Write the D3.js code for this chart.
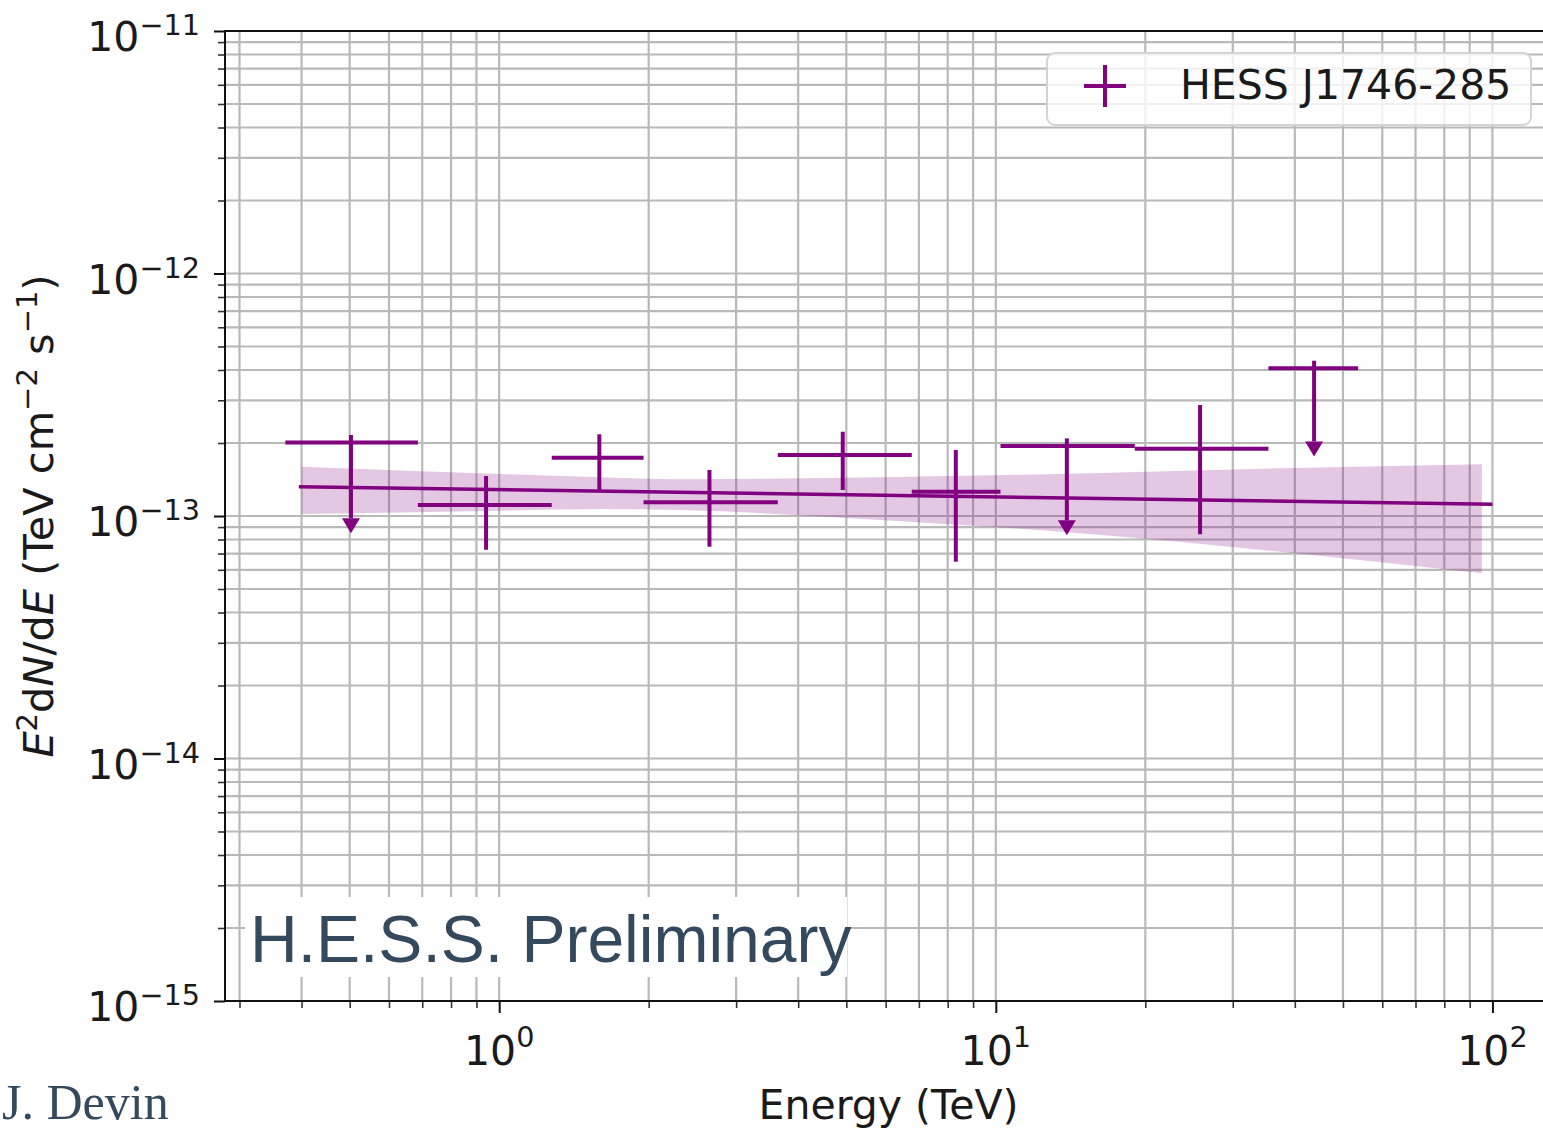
<!DOCTYPE html>
<html>
<head>
<meta charset="utf-8">
<script src="https://cdn.jsdelivr.net/npm/d3@7"></script>
<style>
  html, body { margin: 0; padding: 0; background: #fff; overflow: hidden; }
  svg { display: block; }
  text { font-family: "DejaVu Sans", sans-serif; }
</style>
</head>
<body>
<svg id="chart" width="1543" height="1132"></svg>
<script>
// ---- Spectral points (energy bins in TeV, E^2 dN/dE in TeV cm^-2 s^-1) ----
const binLo  = [0.371, 0.686, 1.276, 1.953, 3.639, 6.773, 10.22, 19.05, 35.39];
const binHi  = [0.686, 1.276, 1.953, 3.639, 6.773, 10.22, 19.05, 35.39, 53.65];
const energy = [0.503, 0.941, 1.591, 2.651, 4.918, 8.307, 13.90, 25.78, 43.74];
const flux   = [2.01e-13, 1.110e-13, 1.739e-13, 1.139e-13, 1.784e-13, 1.260e-13, 1.943e-13, 1.894e-13, 4.064e-13];
const fluxLo = [9.8e-14, 7.26e-14, 1.272e-13, 7.47e-14, 1.280e-13, 6.48e-14, 9.6e-14, 8.40e-14, 2.03e-13];
const fluxHi = [2.158e-13, 1.462e-13, 2.172e-13, 1.548e-13, 2.226e-13, 1.872e-13, 2.09e-13, 2.869e-13, 4.37e-13];
const isUpperLimit = [true, false, false, false, false, false, true, false, true];

// ---- Best-fit power law and its confidence butterfly ----
const modelEnergy = [0.395, 100];
const modelFlux   = [1.320e-13, 1.117e-13];
const bandEnergy = [0.4, 1.0, 1.6, 2.31, 5.85, 14.78, 37.4, 95.2];
const bandUpper  = [1.597e-13, 1.490e-13, 1.444e-13, 1.417e-13, 1.444e-13, 1.497e-13, 1.573e-13, 1.635e-13];
const bandLower  = [1.019e-13, 1.051e-13, 1.069e-13, 1.059e-13, 9.63e-14, 8.49e-14, 7.12e-14, 5.80e-14];

// ---- Axes ----
const xDomain = [0.2805, 131.8];
const yDomain = [1e-15, 1e-11];
const xMajorExp = [0, 1, 2];
const yMajorExp = [-11, -12, -13, -14, -15];

const seriesName = "HESS J1746-285";
const xLabel = "Energy (TeV)";
const watermark = "H.E.S.S. Preliminary";
const author = "J. Devin";

const PURPLE = "#800080";
const INK = "#1a1a1a";
const SLATE = "#34495e";

const svg = d3.select("#chart");
const box = { left: 225, right: 1552, top: 31, bottom: 1001 };

const x = d3.scaleLog().domain(xDomain).range([box.left, box.right]);
const y = d3.scaleLog().domain(yDomain).range([box.bottom, box.top]);

const isMajor = v => Math.abs(Math.log10(v) - Math.round(Math.log10(v))) < 1e-6;
const xTicks = x.ticks();
const yTicks = y.ticks();
const xMinor = xTicks.filter(v => !isMajor(v));
const yMinor = yTicks.filter(v => !isMajor(v));
const xMajor = xMajorExp.map(e => Math.pow(10, e));
const yMajor = yMajorExp.map(e => Math.pow(10, e));

svg.append("defs").append("clipPath").attr("id", "plotClip")
  .append("rect").attr("x", box.left).attr("y", box.top)
  .attr("width", box.right - box.left).attr("height", box.bottom - box.top);

// Grid (major and minor)
const grid = svg.append("g").attr("clip-path", "url(#plotClip)")
  .attr("stroke", "#b9b9b9").attr("stroke-width", 2.2);
grid.selectAll("line.gx").data(xTicks).join("line").attr("class", "gx")
  .attr("x1", d => x(d)).attr("x2", d => x(d))
  .attr("y1", box.top).attr("y2", box.bottom);
grid.selectAll("line.gy").data(yTicks).join("line").attr("class", "gy")
  .attr("y1", d => y(d)).attr("y2", d => y(d))
  .attr("x1", box.left).attr("x2", box.right);

const plot = svg.append("g").attr("clip-path", "url(#plotClip)");

// Butterfly
const band = bandEnergy.map((e, i) => ({ e, up: bandUpper[i], lo: bandLower[i] }));
plot.append("path").datum(band)
  .attr("fill", PURPLE).attr("fill-opacity", 0.22)
  .attr("d", d3.area().x(d => x(d.e)).y0(d => y(d.lo)).y1(d => y(d.up))
    .curve(d3.curveMonotoneX));

// Model line
plot.append("path").datum(modelEnergy.map((e, i) => ({ e, f: modelFlux[i] })))
  .attr("fill", "none").attr("stroke", PURPLE).attr("stroke-width", 3.5)
  .attr("d", d3.line().x(d => x(d.e)).y(d => y(d.f)));

// Flux points and upper limits
const pts = energy.map((e, i) => ({
  e, lo: binLo[i], hi: binHi[i], f: flux[i], fl: fluxLo[i], fh: fluxHi[i], ul: isUpperLimit[i]
}));
const pg = plot.append("g").attr("stroke", PURPLE).attr("stroke-width", 4);
pg.selectAll("line.xerr").data(pts).join("line").attr("class", "xerr")
  .attr("x1", d => x(d.lo)).attr("x2", d => x(d.hi))
  .attr("y1", d => y(d.f)).attr("y2", d => y(d.f));
pg.selectAll("line.yerr").data(pts).join("line").attr("class", "yerr")
  .attr("x1", d => x(d.e)).attr("x2", d => x(d.e))
  .attr("y1", d => y(d.fh)).attr("y2", d => y(d.fl));
plot.selectAll("path.caret").data(pts.filter(d => d.ul)).join("path").attr("class", "caret")
  .attr("fill", PURPLE)
  .attr("d", d => {
    const cx = x(d.e), cy = y(d.fl);
    return `M${cx - 9},${cy} L${cx + 9},${cy} L${cx},${cy + 15} Z`;
  });

// Legend
const lg = svg.append("g");
lg.append("rect").attr("x", 1047).attr("y", 53).attr("width", 484).attr("height", 72).attr("rx", 8)
  .attr("fill", "#fff").attr("fill-opacity", 0.8).attr("stroke", "#d4d4d4").attr("stroke-width", 2);
lg.append("line").attr("x1", 1084).attr("x2", 1126).attr("y1", 86).attr("y2", 86)
  .attr("stroke", PURPLE).attr("stroke-width", 4);
lg.append("line").attr("x1", 1105).attr("x2", 1105).attr("y1", 65).attr("y2", 107)
  .attr("stroke", PURPLE).attr("stroke-width", 4);
lg.append("text").attr("x", 1180).attr("y", 99).attr("font-size", 41).attr("fill", INK)
  .text(seriesName);

// Axes: minor and major ticks
const axMinorX = svg.append("g").attr("transform", `translate(0,${box.bottom})`)
  .call(d3.axisBottom(x).tickValues(xMinor).tickSize(7).tickFormat(""));
const axMajorX = svg.append("g").attr("transform", `translate(0,${box.bottom})`)
  .call(d3.axisBottom(x).tickValues(xMajor).tickSize(12).tickFormat(""));
const axMinorY = svg.append("g").attr("transform", `translate(${box.left},0)`)
  .call(d3.axisLeft(y).tickValues(yMinor).tickSize(7).tickFormat(""));
const axMajorY = svg.append("g").attr("transform", `translate(${box.left},0)`)
  .call(d3.axisLeft(y).tickValues(yMajor).tickSize(11).tickFormat(""));
[axMinorX, axMinorY].forEach(g => {
  g.select(".domain").remove();
  g.selectAll(".tick line").attr("stroke", "#333").attr("stroke-width", 1.6);
});
[axMajorX, axMajorY].forEach(g => {
  g.select(".domain").remove();
  g.selectAll(".tick line").attr("stroke", "#111").attr("stroke-width", 2);
});

// Spines
svg.append("rect").attr("x", box.left).attr("y", box.top)
  .attr("width", box.right - box.left).attr("height", box.bottom - box.top)
  .attr("fill", "none").attr("stroke", "#111").attr("stroke-width", 2);

// Tick labels as 10^n
function powerLabel(sel, exp, supShift) {
  sel.append("tspan").text("10");
  sel.append("tspan").attr("font-size", 28.7).attr("dy", -supShift)
    .text(String(exp).replace("-", "\u2212"));
}
xMajorExp.forEach(e => {
  const t = svg.append("text").attr("x", x(Math.pow(10, e))).attr("y", 1065)
    .attr("text-anchor", "middle").attr("font-size", 41).attr("fill", INK);
  powerLabel(t, e, 18);
});
yMajorExp.forEach(e => {
  const t = svg.append("text").attr("x", 200).attr("y", y(Math.pow(10, e)) + 20)
    .attr("text-anchor", "end").attr("font-size", 41).attr("fill", INK);
  powerLabel(t, e, 16);
});

// Axis titles
svg.append("text").attr("x", (box.left + box.right) / 2).attr("y", 1119)
  .attr("text-anchor", "middle").attr("font-size", 41).attr("fill", INK).text(xLabel);

const yl = svg.append("text")
  .attr("transform", `translate(53,${(box.top + box.bottom) / 2}) rotate(-90)`)
  .attr("text-anchor", "middle").attr("font-size", 41.5).attr("fill", INK);
yl.append("tspan").attr("font-style", "italic").text("E");
yl.append("tspan").attr("font-size", 29).attr("dy", -16).text("2");
yl.append("tspan").attr("dy", 16).text("d");
yl.append("tspan").attr("font-style", "italic").text("N");
yl.append("tspan").text("/d");
yl.append("tspan").attr("font-style", "italic").text("E");
yl.append("tspan").text(" (TeV cm");
yl.append("tspan").attr("font-size", 29).attr("dy", -16).text("\u22122");
yl.append("tspan").attr("dy", 16).text(" s");
yl.append("tspan").attr("font-size", 29).attr("dy", -16).text("\u22121");
yl.append("tspan").attr("dy", 16).text(")");

// Collaboration watermark and author
svg.append("rect").attr("x", 245).attr("y", 897).attr("width", 602).attr("height", 80).attr("fill", "#fff");
svg.append("text").attr("x", 250).attr("y", 962)
  .style("font-family", "'Liberation Sans', Arial, sans-serif")
  .attr("font-size", 66).attr("fill", SLATE).text(watermark);
svg.append("text").attr("x", 2).attr("y", 1119)
  .style("font-family", "'Liberation Serif', 'Times New Roman', serif")
  .attr("font-size", 50).attr("fill", SLATE).text(author);
</script>
</body>
</html>
